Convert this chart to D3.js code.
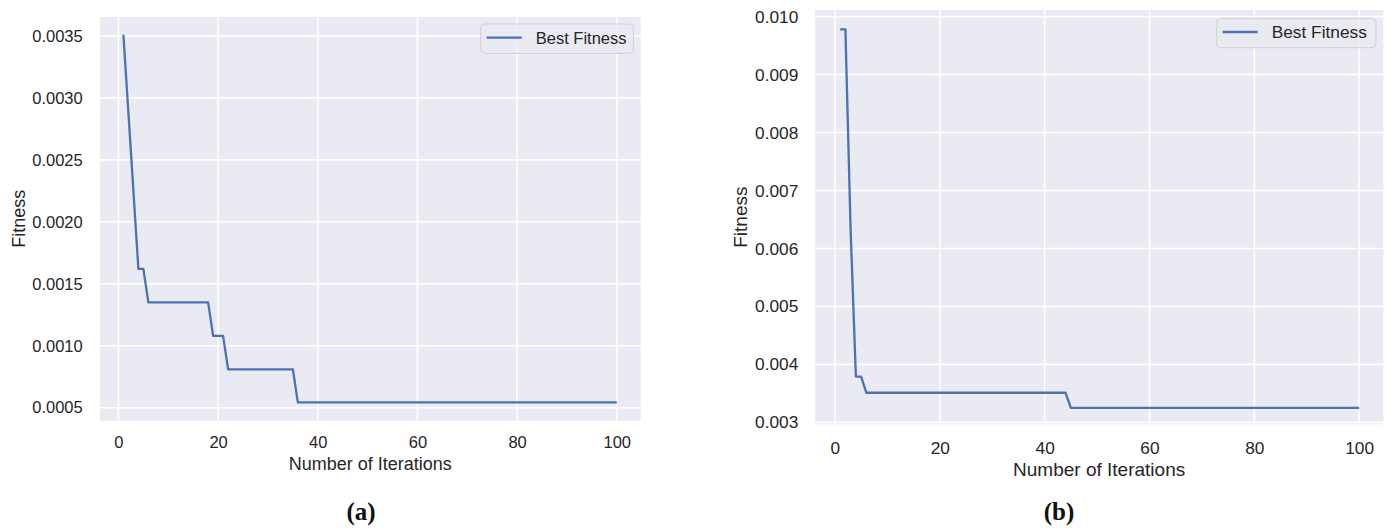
<!DOCTYPE html>
<html>
<head>
<meta charset="utf-8">
<script src="https://cdn.jsdelivr.net/npm/d3@7"></script>
<style>
  body { margin: 0; background: #fff; }
  svg { display: block; font-family: "Liberation Sans", Arial, sans-serif; }
</style>
</head>
<body>
<svg id="chart" width="1392" height="530"></svg>
<script>
// datos (puntos donde cambia la curva)
const iterA = [1, 2, 3, 4, 5, 6, 18, 19, 21, 22, 35, 36, 100];
const fitA = [0.00351, 0.00288, 0.00225, 0.00162, 0.00162, 0.00135, 0.00135, 0.00108, 0.00108, 0.00081, 0.00081, 0.000543, 0.000543];

const iterB = [1, 2, 3, 4, 5, 6, 44, 45, 100];
const fitB = [0.00978, 0.00978, 0.0063, 0.00379, 0.00379, 0.00351, 0.00351, 0.00325, 0.00325];

const xTicks = [0, 20, 40, 60, 80, 100];
const yTicksA = [0.0005, 0.0010, 0.0015, 0.0020, 0.0025, 0.0030, 0.0035];
const yTicksB = [0.003, 0.004, 0.005, 0.006, 0.007, 0.008, 0.009, 0.010];

const xTitle = "Number of Iterations";
const yTitle = "Fitness";
const legendLabel = "Best Fitness";

const svg = d3.select("#chart");

function dibujarPanel(cfg) {
  const g = svg.append("g").attr("transform", `translate(${cfg.left},${cfg.top})`);

  const x = d3.scaleLinear().domain(cfg.xDomain).range([0, cfg.width]);
  const y = d3.scaleLinear().domain(cfg.yDomain).range([cfg.height, 0]);

  // fondo estilo seaborn
  g.append("rect")
    .attr("width", cfg.width)
    .attr("height", cfg.height)
    .attr("fill", "#eaeaf2");

  // rejilla
  g.selectAll(".gx").data(xTicks).enter().append("line")
    .attr("x1", d => x(d)).attr("x2", d => x(d))
    .attr("y1", 0).attr("y2", cfg.height)
    .attr("stroke", "#fff").attr("stroke-width", 1.6);
  g.selectAll(".gy").data(cfg.yTicks).enter().append("line")
    .attr("x1", 0).attr("x2", cfg.width)
    .attr("y1", d => y(d)).attr("y2", d => y(d))
    .attr("stroke", "#fff").attr("stroke-width", 1.6);

  // ejes sin linea ni marcas
  const ax = g.append("g")
    .attr("transform", `translate(0,${cfg.height})`)
    .call(d3.axisBottom(x).tickValues(xTicks).tickSize(0).tickPadding(cfg.xPad));
  const ay = g.append("g")
    .call(d3.axisLeft(y).tickValues(cfg.yTicks).tickSize(0).tickPadding(cfg.yPad)
      .tickFormat(d3.format(cfg.yFormat)));
  [ax, ay].forEach(a => {
    a.select(".domain").remove();
    a.selectAll("text")
      .style("font-family", "Liberation Sans, Arial, sans-serif")
      .style("font-size", cfg.tickSize + "px")
      .attr("fill", "#262626");
  });

  // curva
  const puntos = cfg.iters.map((it, i) => ({ it: it, f: cfg.fits[i] }));
  g.append("path")
    .datum(puntos)
    .attr("fill", "none")
    .attr("stroke", "#4c72b0")
    .attr("stroke-width", 2.3)
    .attr("stroke-linejoin", "round")
    .attr("d", d3.line().x(d => x(d.it)).y(d => y(d.f)));

  // titulos de ejes
  g.append("text")
    .attr("x", cfg.width / 2)
    .attr("y", cfg.height + cfg.xTitleY)
    .attr("text-anchor", "middle")
    .attr("fill", "#262626")
    .style("font-size", cfg.titleSize + "px")
    .text(xTitle);
  g.append("text")
    .attr("transform", `translate(${cfg.yTitleX},${cfg.height / 2}) rotate(-90)`)
    .attr("text-anchor", "middle")
    .attr("fill", "#262626")
    .style("font-size", cfg.titleSize + "px")
    .text(yTitle);

  // leyenda
  const lg = svg.append("g").attr("transform", `translate(${cfg.leg[0]},${cfg.leg[1]})`);
  lg.append("rect")
    .attr("width", cfg.leg[2]).attr("height", cfg.leg[3])
    .attr("rx", 4)
    .attr("fill", "#eaeaf2").attr("fill-opacity", 0.8)
    .attr("stroke", "#cfcfd6").attr("stroke-width", 1);
  lg.append("line")
    .attr("x1", 6).attr("x2", 41)
    .attr("y1", cfg.leg[3] / 2 - 1).attr("y2", cfg.leg[3] / 2 - 1)
    .attr("stroke", "#4c72b0").attr("stroke-width", 2.3);
  lg.append("text")
    .attr("x", 55)
    .attr("y", cfg.leg[3] / 2 + 5.5)
    .attr("fill", "#262626")
    .style("font-size", cfg.tickSize + "px")
    .text(legendLabel);

  // etiqueta (a)/(b)
  svg.append("text")
    .attr("x", cfg.capX)
    .attr("y", 520)
    .attr("text-anchor", "middle")
    .attr("fill", "#111")
    .style("font-family", "Liberation Serif, Times New Roman, serif")
    .style("font-weight", "bold")
    .style("font-size", "25px")
    .text(cfg.caption);
}

dibujarPanel({
  left: 100, top: 17, width: 540.7, height: 403.7,
  xDomain: [-3.7, 104.8], yDomain: [0.000395, 0.003653],
  iters: iterA, fits: fitA, yTicks: yTicksA, yFormat: ".4f",
  tickSize: 16.5, titleSize: 18, xPad: 16, yPad: 17.3,
  xTitleY: 49.3, yTitleX: -75,
  leg: [480.7, 24, 152.6, 29.3],
  capX: 361, caption: "(a)"
});

dibujarPanel({
  left: 815, top: 10, width: 568.3, height: 414.3,
  xDomain: [-3.8, 104.6], yDomain: [0.002966, 0.010115],
  iters: iterB, fits: fitB, yTicks: yTicksB, yFormat: ".3f",
  tickSize: 17.3, titleSize: 19, xPad: 17.4, yPad: 16.7,
  xTitleY: 51.7, yTitleX: -68.3,
  leg: [1216.7, 18.3, 159.3, 29.4],
  capX: 1059, caption: "(b)"
});
</script>
</body>
</html>
